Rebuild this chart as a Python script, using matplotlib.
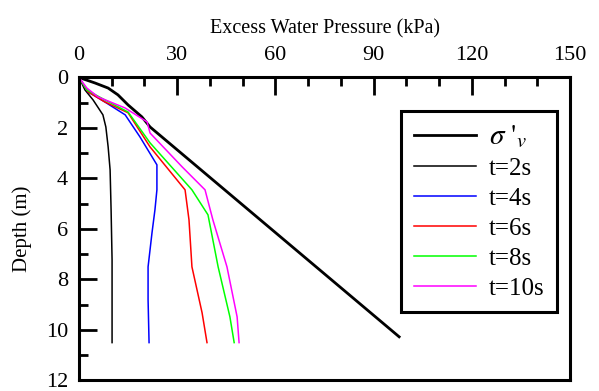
import numpy as np
import matplotlib.pyplot as plt
from matplotlib.ticker import MultipleLocator

plt.rcParams['font.family'] = ['Liberation Serif', 'DejaVu Serif']
plt.rcParams['mathtext.fontset'] = 'stix'

# tensão efetiva vertical
sig_x = [0, 4.9, 8.9, 11.9, 15.0, 19.2, 21.7, 97.8]
sig_d = [0, 0.22, 0.42, 0.69, 1.09, 1.56, 1.96, 10.27]

# excesso de poropressão
t2_x = [0, 1.8, 4.3, 7.3, 8.2, 8.9, 9.5, 9.8, 10.1, 10.1]
t2_d = [0, 0.49, 0.89, 1.48, 1.96, 2.75, 3.66, 5.24, 7.22, 10.5]

t4_x = [0, 2.75, 7.9, 14.1, 18.6, 23.8, 23.8, 23.2, 22.3, 21.1, 21.1, 21.4]
t4_d = [0, 0.57, 0.97, 1.48, 2.35, 3.46, 4.45, 5.24, 6.15, 7.5, 8.8, 10.5]

t6_x = [0, 2.75, 7.9, 15.0, 21.7, 32.4, 33.6, 34.5, 37.6, 39.1]
t6_d = [0, 0.57, 0.97, 1.40, 2.75, 4.45, 5.64, 7.5, 9.32, 10.5]

t8_x = [0, 2.4, 7.9, 15.0, 21.7, 34.5, 39.4, 42.5, 46.1, 47.4]
t8_d = [0, 0.5, 0.89, 1.37, 2.59, 4.45, 5.44, 7.5, 9.48, 10.5]

t10_x = [0, 2.4, 5.8, 14.1, 20.8, 21.7, 31.5, 38.5, 40.9, 45.2, 48.3, 48.9]
t10_d = [0, 0.42, 0.77, 1.21, 1.76, 2.2, 3.54, 4.45, 5.64, 7.5, 9.48, 10.5]

fig = plt.figure(figsize=(5.99, 3.91), dpi=100)
ax = fig.add_axes([0.1319, 0.0269, 0.8197, 0.775])

ax.plot(sig_x, sig_d, color='black', linewidth=2.0, label=r"$\sigma\ '_{v}$")
ax.plot(t2_x, t2_d, color='black', linewidth=1.1, label='t=2s')
ax.plot(t4_x, t4_d, color='#0000ff', linewidth=1.1, label='t=4s')
ax.plot(t6_x, t6_d, color='#ff0000', linewidth=1.1, label='t=6s')
ax.plot(t8_x, t8_d, color='#00ff00', linewidth=1.1, label='t=8s')
ax.plot(t10_x, t10_d, color='#ff00ff', linewidth=1.1, label='t=10s')

ax.set_xlim(0, 150)
ax.set_ylim(12, 0)
ax.xaxis.set_major_locator(MultipleLocator(30))
ax.xaxis.set_minor_locator(MultipleLocator(10))
ax.yaxis.set_major_locator(MultipleLocator(2))
ax.yaxis.set_minor_locator(MultipleLocator(1))
ax.xaxis.tick_top()
ax.xaxis.set_label_position('top')
ax.tick_params(which='both', direction='in', labelsize=16, top=True, bottom=False,
               left=True, right=False, width=2.0)
ax.tick_params(which='major', length=13)
ax.tick_params(which='minor', length=6.5)
ax.tick_params(axis='x', pad=9)
ax.tick_params(axis='y', pad=8)
for s in ax.spines.values():
    s.set_linewidth(2.2)

ax.set_xlabel('Excess Water Pressure (kPa)', fontsize=14.5, labelpad=9)
ax.set_ylabel('Depth (m)', fontsize=15, labelpad=10)

leg = ax.legend(loc='upper right', bbox_to_anchor=(0.9735, 0.889), borderaxespad=0,
                fontsize=18, frameon=True, fancybox=False, edgecolor='black',
                framealpha=1, handlelength=2.5, handletextpad=0.5,
                labelspacing=0.3, borderpad=0.5)
leg.get_frame().set_linewidth(2.2)
leg.get_texts()[0].set_fontsize(21)

plt.savefig('out.png', dpi=100)
